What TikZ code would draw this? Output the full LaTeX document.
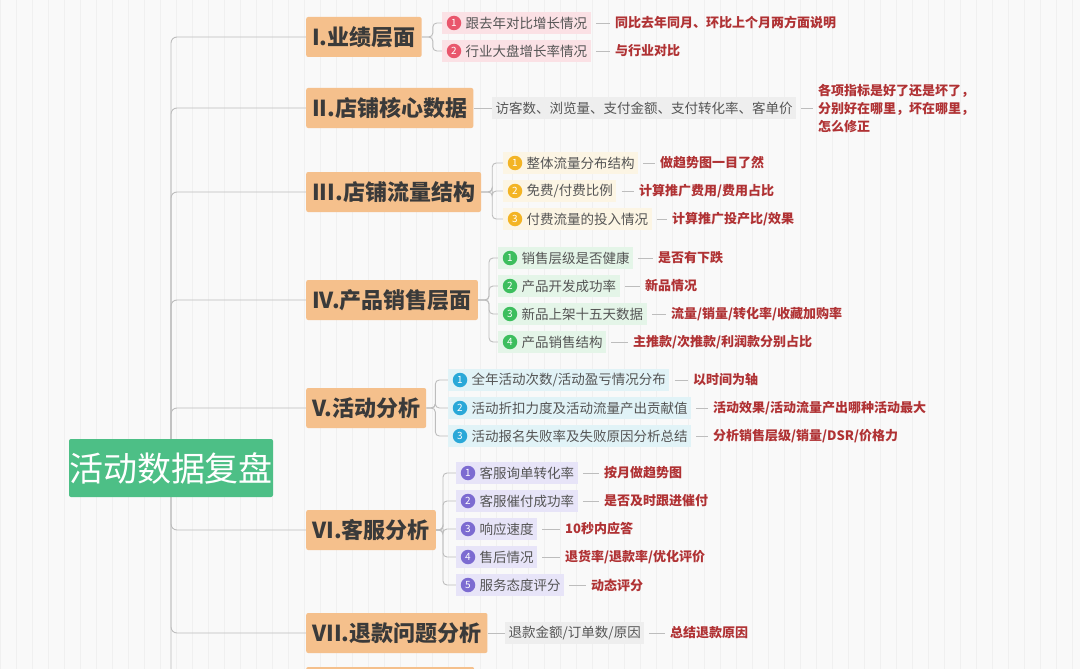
\documentclass[tikz,border=0pt]{standalone}
\usepackage{fontspec}
\setmainfont{Noto Sans CJK SC}
\usetikzlibrary{backgrounds}
\definecolor{bgc}{HTML}{F9F9F9}
\definecolor{gridc}{HTML}{F0F0F0}
\definecolor{rootc}{HTML}{4DBF86}
\definecolor{catc}{HTML}{F5C08C}
\definecolor{cattxt}{HTML}{3A3A3A}
\definecolor{redt}{HTML}{B03234}
\definecolor{subt}{HTML}{555555}
\definecolor{linec}{HTML}{BDBDBD}
\definecolor{pinkc}{HTML}{E9566C}\definecolor{pinkb}{HTML}{FBE1E5}
\definecolor{yelc}{HTML}{F3B424}\definecolor{yelb}{HTML}{FCF5E4}
\definecolor{grnc}{HTML}{3DBE5E}\definecolor{grnb}{HTML}{E4F5E8}
\definecolor{bluc}{HTML}{2AA8D8}\definecolor{blub}{HTML}{E1F3F7}
\definecolor{purc}{HTML}{7C6BD1}\definecolor{purb}{HTML}{E7E4F8}
\definecolor{grayb}{HTML}{EEEEEE}
\tikzset{
 conn/.style={draw=linec,line width=0.9pt,rounded corners=6},
 root/.style={fill=rootc,text=white,font=\fontsize{34}{36}\selectfont,minimum width=198,minimum height=58,inner sep=0,rounded corners=2},
 cat/.style={fill=catc,text=cattxt,font=\fontsize{22}{24}\selectfont\bfseries,minimum height=40,inner sep=6,anchor=west,rounded corners=2},
 sub/.style={font=\fontsize{13.5}{15}\selectfont,text=subt,minimum height=22,inner sep=3.5,anchor=west},
 lab/.style={font=\fontsize{13}{15}\selectfont\bfseries,text=redt,anchor=west,inner sep=0},
 num/.style={circle,inner sep=0,minimum size=14.5,text=white,font=\fontsize{10}{10}\selectfont},
}
\newcommand{\mysub}[9]{%
 \node[sub,fill=#7] (#1) at (#2,#3) {\hspace{20pt}#5};
 \node[num,fill=#6] (#1n) at ([xshift=12]#1.west) {#4};
 \node[lab] (#1l) at (#8,#3) {#9};
 \draw[linec,line width=0.8pt] ([xshift=5]#1.east) -- ([xshift=-5]#1l.west);
}
\begin{document}
\begin{tikzpicture}[x=1pt,y=-1pt]
\useasboundingbox (0,0) rectangle (1080,669);
\clip (0,0) rectangle (1080,669);

\node[root] (root) at (171,468) {活动数据复盘};
\node[cat] (c1) at (306,37) {I.业绩层面};
\node[cat] (c2) at (306,108) {II.店铺核心数据};
\node[cat] (c3) at (306,192) {III.店铺流量结构};
\node[cat] (c4) at (306,300) {IV.产品销售层面};
\node[cat] (c5) at (306,408) {V.活动分析};
\node[cat] (c6) at (306,530) {VI.客服分析};
\node[cat] (c7) at (306,633) {VII.退款问题分析};
\node[cat,minimum width=168] (c8) at (306,687) {};

\mysub{a1}{442}{23}{1}{跟去年对比增长情况}{pinkc}{pinkb}{615}{同比去年同月、环比上个月两方面说明}
\mysub{a2}{442}{51}{2}{行业大盘增长率情况}{pinkc}{pinkb}{615}{与行业对比}
\node[sub,fill=grayb] (b1) at (492,108) {访客数、浏览量、支付金额、支付转化率、客单价};
\node[lab,align=left,font=\fontsize{13}{18}\selectfont\bfseries] (b1l) at (818,108) {各项指标是好了还是坏了，\\分别好在哪里，坏在哪里，\\怎么修正};
\draw[linec,line width=0.8pt] ([xshift=5]b1.east) -- ([xshift=-5]b1l.west);
\mysub{d1}{503}{163}{1}{整体流量分布结构}{yelc}{yelb}{660}{做趋势图一目了然}
\mysub{d2}{503}{191}{2}{免费/付费比例}{yelc}{yelb}{639}{计算推广费用/费用占比}
\mysub{d3}{503}{219}{3}{付费流量的投入情况}{yelc}{yelb}{672}{计算推广投产比/效果}
\mysub{e1}{498}{258}{1}{销售层级是否健康}{grnc}{grnb}{658}{是否有下跌}
\mysub{e2}{498}{286}{2}{产品开发成功率}{grnc}{grnb}{645}{新品情况}
\mysub{e3}{498}{314}{3}{新品上架十五天数据}{grnc}{grnb}{671}{流量/销量/转化率/收藏加购率}
\mysub{e4}{498}{342}{4}{产品销售结构}{grnc}{grnb}{633}{主推款/次推款/利润款分别占比}
\mysub{f1}{448}{380}{1}{全年活动次数/活动盈亏情况分布}{bluc}{blub}{693}{以时间为轴}
\mysub{f2}{448}{408}{2}{活动折扣力度及活动流量产出贡献值}{bluc}{blub}{713}{活动效果/活动流量产出哪种活动最大}
\mysub{f3}{448}{436}{3}{活动报名失败率及失败原因分析总结}{bluc}{blub}{713}{分析销售层级/销量/DSR/价格力}
\mysub{g1}{456}{473}{1}{客服询单转化率}{purc}{purb}{604}{按月做趋势图}
\mysub{g2}{456}{501}{2}{客服催付成功率}{purc}{purb}{604}{是否及时跟进催付}
\mysub{g3}{456}{529}{3}{响应速度}{purc}{purb}{565}{10秒内应答}
\mysub{g4}{456}{557}{4}{售后情况}{purc}{purb}{565}{退货率/退款率/优化评价}
\mysub{g5}{456}{585}{5}{服务态度评分}{purc}{purb}{591}{动态评分}
\node[sub,fill=grayb] (h1) at (505,633) {退款金额/订单数/原因};
\node[lab] (h1l) at (670,633) {总结退款原因};
\draw[linec,line width=0.8pt] ([xshift=5]h1.east) -- ([xshift=-5]h1l.west);

\begin{scope}[on background layer]
\fill[bgc] (0,0) rectangle (1080,669);
\draw[gridc,line width=0.4pt,step=16] (0,0) grid (1080,669);
\foreach \c in {c1,c2,c3,c4,c5,c6,c7,c8}{\draw[conn] (root.center) |- (\c.west);}
\foreach \s in {a1,a2}{\draw[conn,rounded corners=4] (c1.east) -- ++(11,0) |- (\s.west);}
\draw[conn] (c2.east) -- (b1.west);
\foreach \s in {d1,d2,d3}{\draw[conn,rounded corners=4] (c3.east) -- ++(11,0) |- (\s.west);}
\foreach \s in {e1,e2,e3,e4}{\draw[conn,rounded corners=4] (c4.east) -- ++(11,0) |- (\s.west);}
\foreach \s in {f1,f2,f3}{\draw[conn,rounded corners=4] (c5.east) -- ++(9,0) |- (\s.west);}
\foreach \s in {g1,g2,g3,g4,g5}{\draw[conn,rounded corners=4] (c6.east) -- ++(7,0) |- (\s.west);}
\draw[conn] (c7.east) -- (h1.west);
\end{scope}
\end{tikzpicture}
\end{document}
